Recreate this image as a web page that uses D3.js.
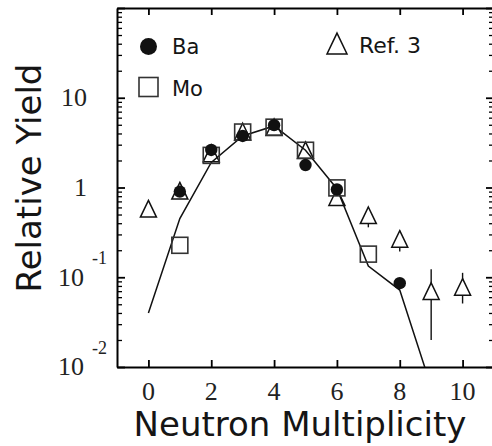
<!DOCTYPE html>
<head>
<meta charset="utf-8">
<script src="https://d3js.org/d3.v7.min.js"></script>
<style>
    body { margin: 0; background: #fff; }
    .axis path { stroke: #000; stroke-width: 2px; }
    .axis .tick line { stroke: #000; stroke-width: 1.8px; }
    .axis.minor .tick line { stroke-width: 1.3px; }
    .ticklab { font-family: "Liberation Serif", "Times New Roman", serif; fill: #222; }
    .title { font-family: "DejaVu Sans", sans-serif; fill: #151515; }
</style>
</head>
<body>
<div id="chart"></div>
<script>
    // Ba (filled circles)
    var baX = [1, 2, 3, 4, 5, 6, 8];
    var baY = [0.90, 2.62, 3.75, 4.95, 1.78, 0.95, 0.086];

    // Mo (open squares)
    var moX = [1, 2, 3, 4, 5, 6, 7];
    var moY = [0.227, 2.28, 4.15, 4.7, 2.6, 0.99, 0.181];

    // Ref. 3 (open triangles)
    var refX = [0, 1, 2, 3, 4, 5, 6, 7, 8, 9, 10];
    var refY = [0.58, 0.92, 2.4, 4.2, 4.7, 2.6, 0.78, 0.49, 0.267, 0.070, 0.078];

    // error bars on Ref. 3
    var errX = [7, 8, 9, 10];
    var errLo = [0.36, 0.193, 0.020, 0.051];
    var errHi = [0.60, 0.33, 0.123, 0.112];

    // calculation (solid line)
    var calcX = [0, 1, 2, 3, 4, 5, 6, 7, 8, 9];
    var calcY = [0.040, 0.45, 1.9, 3.75, 4.85, 2.6, 0.97, 0.133, 0.072, 0.006];

    var xTicks = [0, 2, 4, 6, 8, 10];
    var yMajor = [0.01, 0.1, 1, 10, 100];
    var yLabels = [
        { v: 10, base: "10", exp: "" },
        { v: 1, base: "1", exp: "" },
        { v: 0.1, base: "10", exp: "-1" },
        { v: 0.01, base: "10", exp: "-2" }
    ];

    var width = 492, height = 446;
    var plotL = 117, plotR = 494, plotT = 8, plotB = 367;

    var svg = d3.select("#chart").append("svg")
        .attr("width", width)
        .attr("height", height);

    var x = d3.scaleLinear().domain([-1, 11]).range([plotL, plotR]);
    var y = d3.scaleLog().domain([0.01, 100]).range([plotB, plotT]);

    var yMinor = y.ticks().filter(function (d) {
        return yMajor.indexOf(d) < 0;
    });

    // clip for the line
    svg.append("clipPath").attr("id", "plot")
        .append("rect")
        .attr("x", plotL).attr("y", plotT)
        .attr("width", plotR - plotL).attr("height", plotB - plotT);

    // axes, all ticks pointing inward
    svg.append("g").attr("class", "axis")
        .attr("transform", "translate(0," + plotB + ")")
        .call(d3.axisBottom(x).tickValues(xTicks).tickSizeInner(-7).tickSizeOuter(0).tickFormat(""));
    svg.append("g").attr("class", "axis")
        .attr("transform", "translate(0," + plotT + ")")
        .call(d3.axisTop(x).tickValues(xTicks).tickSizeInner(-7).tickSizeOuter(0).tickFormat(""));

    [[plotL, d3.axisLeft], [plotR, d3.axisRight]].forEach(function (a) {
        svg.append("g").attr("class", "axis")
            .attr("transform", "translate(" + a[0] + ",0)")
            .call(a[1](y).tickValues(yMajor).tickSizeInner(-8).tickSizeOuter(0).tickFormat(""));
        svg.append("g").attr("class", "axis minor")
            .attr("transform", "translate(" + a[0] + ",0)")
            .call(a[1](y).tickValues(yMinor).tickSizeInner(-5).tickSizeOuter(0).tickFormat(""))
            .select("path").remove();
    });

    // x tick labels
    svg.selectAll(".xlab").data(xTicks).enter().append("text")
        .attr("class", "ticklab")
        .attr("x", function (d) { return x(d); })
        .attr("y", 400)
        .attr("text-anchor", "middle")
        .style("font-size", "26px")
        .text(function (d) { return d; });

    // y tick labels, powers of ten
    var yl = svg.selectAll(".ylab").data(yLabels).enter().append("g");
    yl.append("text")
        .attr("class", "ticklab")
        .attr("x", function (d) { return d.exp ? 84 : 87; })
        .attr("y", function (d) { return y(d.v) + 8.3; })
        .attr("text-anchor", "end")
        .style("font-size", "26px")
        .text(function (d) { return d.base; });
    yl.filter(function (d) { return d.exp; }).append("text")
        .attr("class", "ticklab")
        .attr("x", 92)
        .attr("y", function (d) { return y(d.v) - 13.5; })
        .style("font-size", "18px")
        .text(function (d) { return d.exp; });

    // calculated curve
    svg.append("path")
        .datum(calcX.map(function (d, i) { return [d, calcY[i]]; }))
        .attr("clip-path", "url(#plot)")
        .attr("fill", "none")
        .attr("stroke", "#111")
        .attr("stroke-width", 1.5)
        .attr("d", d3.line()
            .x(function (d) { return x(d[0]); })
            .y(function (d) { return y(d[1]); }));

    // error bars
    svg.selectAll(".err").data(errX).enter().append("line")
        .attr("x1", function (d) { return x(d); })
        .attr("x2", function (d) { return x(d); })
        .attr("y1", function (d, i) { return y(errLo[i]); })
        .attr("y2", function (d, i) { return y(errHi[i]); })
        .attr("stroke", "#111")
        .attr("stroke-width", 1.4);

    function tri(s) {
        var h = s * 1.04;
        return "M0," + (-h / 2) + "L" + (s / 2) + "," + (h / 2) + "L" + (-s / 2) + "," + (h / 2) + "Z";
    }

    // Ref. 3 (white inside so the error bars stop at the outline)
    svg.selectAll(".ref").data(refX).enter().append("path")
        .attr("transform", function (d, i) { return "translate(" + x(d) + "," + y(refY[i]) + ")"; })
        .attr("d", tri(16))
        .attr("fill", function (d) { return errX.indexOf(d) >= 0 ? "#fff" : "none"; })
        .attr("stroke", "#111")
        .attr("stroke-width", 1.5);

    // Mo
    svg.selectAll(".mo").data(moX).enter().append("rect")
        .attr("x", function (d) { return x(d) - 8; })
        .attr("y", function (d, i) { return y(moY[i]) - 8; })
        .attr("width", 16).attr("height", 16)
        .attr("fill", "none")
        .attr("stroke", "#333")
        .attr("stroke-width", 1.6);

    // Ba
    svg.selectAll(".ba").data(baX).enter().append("circle")
        .attr("cx", function (d) { return x(d); })
        .attr("cy", function (d, i) { return y(baY[i]); })
        .attr("r", 6.2)
        .attr("fill", "#111");

    // legend
    var leg = svg.append("g");
    leg.append("circle").attr("cx", 148.5).attr("cy", 46.5).attr("r", 8.5).attr("fill", "#111");
    leg.append("rect").attr("x", 139).attr("y", 77.5).attr("width", 19).attr("height", 19)
        .attr("fill", "none").attr("stroke", "#333").attr("stroke-width", 1.6);
    leg.append("path").attr("transform", "translate(337,43.5)").attr("d", tri(20))
        .attr("fill", "none").attr("stroke", "#111").attr("stroke-width", 1.5);
    leg.append("text").attr("class", "title").attr("x", 172).attr("y", 53.5)
        .style("font-size", "21px").text("Ba");
    leg.append("text").attr("class", "title").attr("x", 172).attr("y", 96)
        .style("font-size", "21px").text("Mo");
    leg.append("text").attr("class", "title").attr("x", 359).attr("y", 52.5)
        .style("font-size", "22px").text("Ref. 3");

    // axis titles
    svg.append("text").attr("class", "title")
        .attr("x", 300).attr("y", 436)
        .attr("text-anchor", "middle")
        .style("font-size", "34px")
        .text("Neutron Multiplicity");
    svg.append("text").attr("class", "title")
        .attr("transform", "translate(41,178) rotate(-90)")
        .attr("text-anchor", "middle")
        .style("font-size", "34px")
        .text("Relative Yield");
</script>
</body>
